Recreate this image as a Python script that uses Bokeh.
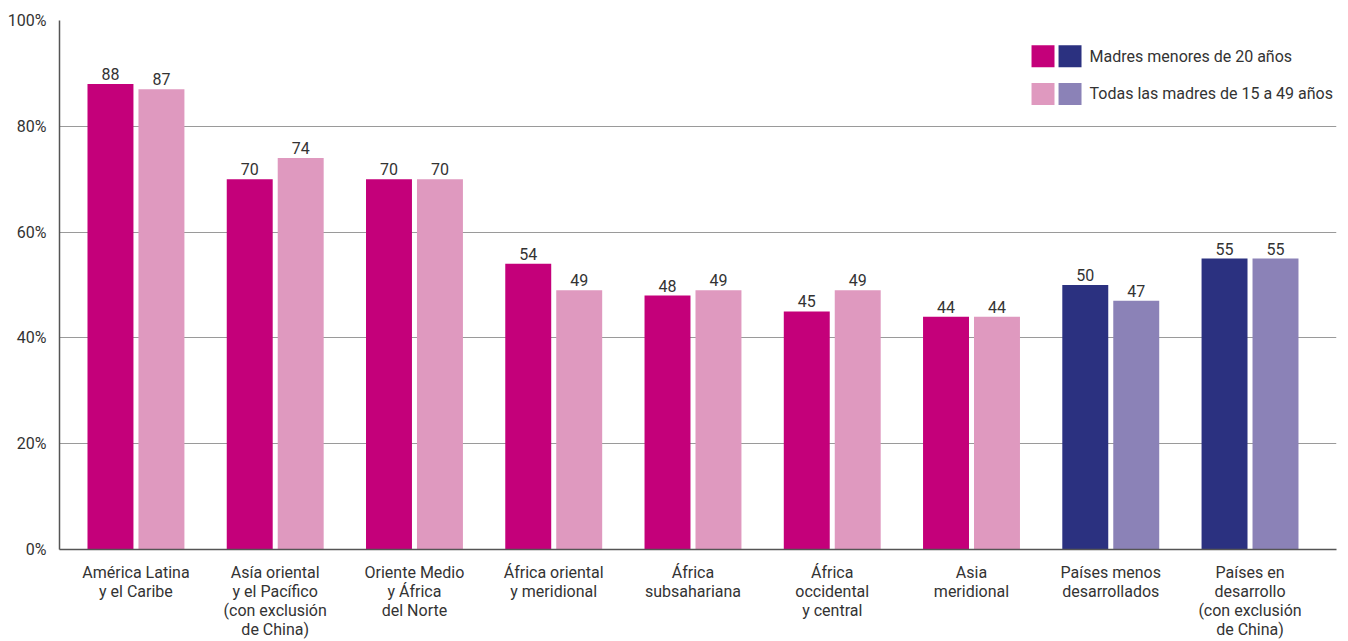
from bokeh.plotting import figure
from bokeh.models import (ColumnDataSource, Range1d, FixedTicker, PrintfTickFormatter,
                          LabelSet, Label, BoxAnnotation)
from bokeh.embed import file_html
from bokeh.resources import INLINE
from bokeh.core.properties import value

categories = ["América Latina\ny el Caribe",
              "Asía oriental\ny el Pacífico\n(con exclusión\nde China)",
              "Oriente Medio\ny África\ndel Norte",
              "África oriental\ny meridional",
              "África\nsubsahariana",
              "África\noccidental\ny central",
              "Asia\nmeridional",
              "Países menos\ndesarrollados",
              "Países en\ndesarrollo\n(con exclusión\nde China)"]
menores = [88, 70, 70, 54, 48, 45, 44, 50, 55]
todas = [87, 74, 70, 49, 49, 49, 44, 47, 55]
group = ["region"] * 7 + ["agregado"] * 2
legend_labels = ["Madres menores de 20 años", "Todas las madres de 15 a 49 años"]
y_ticks = [0, 20, 40, 60, 80, 100]

C_MAG, C_PINK, C_NAVY, C_LAV = "#C4007A", "#DF99BF", "#2B3180", "#8B82B7"
FONT = "Roboto"
TXT = "#333333"

xs = list(range(len(categories)))
col1 = [C_MAG if g == "region" else C_NAVY for g in group]
col2 = [C_PINK if g == "region" else C_LAV for g in group]
src = ColumnDataSource(dict(
    x=xs, x1=[x - 0.183 for x in xs], x2=[x + 0.183 for x in xs],
    m=menores, t=todas, c1=col1, c2=col2,
    ms=[str(v) for v in menores], ts=[str(v) for v in todas]))

p = figure(width=1340, height=641, output_backend="svg", toolbar_location=None,
           x_range=Range1d(-0.549, 8.621), y_range=Range1d(0, 100),
           min_border_left=59, min_border_right=4, min_border_top=20, min_border_bottom=80)
p.outline_line_color = None
p.background_fill_color = "white"

p.vbar(x="x1", top="m", width=0.33, fill_color="c1", line_color=None, source=src)
p.vbar(x="x2", top="t", width=0.33, fill_color="c2", line_color=None, source=src)

for xc, yc, tc in [("x1", "m", "ms"), ("x2", "t", "ts")]:
    p.add_layout(LabelSet(x=xc, y=yc, text=tc, source=src, text_align="center",
                          text_baseline="bottom", y_offset=4, text_font=value(FONT),
                          text_font_size="16px", text_color=TXT))

p.xaxis.ticker = FixedTicker(ticks=xs)
p.xaxis.major_label_overrides = {x: c for x, c in zip(xs, categories)}
p.xaxis.major_tick_line_color = None
p.xaxis.minor_tick_line_color = None
p.xaxis.axis_line_color = "#555555"
p.xaxis.axis_line_width = 1.5
p.xaxis.major_label_text_font = FONT
p.xaxis.major_label_text_font_size = "16px"
p.xaxis.major_label_text_color = TXT
p.xaxis.major_label_text_line_height = 1.0
p.xaxis.major_label_standoff = 7

p.yaxis.ticker = FixedTicker(ticks=y_ticks)
p.yaxis.formatter = PrintfTickFormatter(format="%d%%")
p.yaxis.major_tick_line_color = None
p.yaxis.minor_tick_line_color = None
p.yaxis.axis_line_color = "#555555"
p.yaxis.axis_line_width = 1.5
p.yaxis.major_label_text_font = FONT
p.yaxis.major_label_text_font_size = "16px"
p.yaxis.major_label_text_color = TXT
p.yaxis.major_label_standoff = 7

p.xgrid.grid_line_color = None
p.ygrid.ticker = FixedTicker(ticks=y_ticks)
p.ygrid.grid_line_color = "#9a9a9a"
p.ygrid.grid_line_width = 1

# legend
for (l, r), (b, t), c in [((6.431, 6.596), (91.18, 95.31), C_MAG),
                          ((6.625, 6.790), (91.18, 95.31), C_NAVY),
                          ((6.431, 6.596), (84.05, 88.18), C_PINK),
                          ((6.625, 6.790), (84.05, 88.18), C_LAV)]:
    p.add_layout(BoxAnnotation(left=l, right=r, bottom=b, top=t, fill_color=c,
                               fill_alpha=1, line_color=None))
for txt, yy in zip(legend_labels, [93.25, 86.12]):
    p.add_layout(Label(x=6.848, y=yy, text=txt, text_baseline="middle",
                       text_font=FONT, text_font_size="16px", text_color=TXT))

open("out.html", "w").write(file_html(p, INLINE))
